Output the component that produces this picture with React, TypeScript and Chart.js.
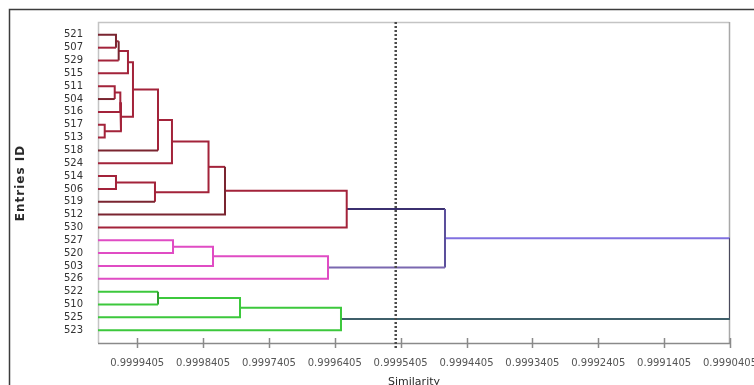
import { useEffect, useRef } from 'react';
import { Chart, registerables } from 'chart.js';

Chart.register(...registerables);

// Leaf labels, top to bottom
const leafIds = ['521', '507', '529', '515', '511', '504', '516', '517', '513', '518', '524', '514', '506', '519', '512', '530', '527', '520', '503', '526', '522', '510', '525', '523'];

// Linkage table: merge k creates node 24 + k from mergeLeft[k] and mergeRight[k]
const mergeLeft = [0, 24, 25, 4, 27, 7, 28, 26, 31, 32, 11, 34, 33, 36, 37, 16, 39, 40, 20, 42, 43, 38, 45];
const mergeRight = [1, 2, 3, 5, 6, 8, 29, 30, 9, 10, 12, 13, 35, 14, 15, 17, 18, 19, 21, 22, 23, 41, 44];
const mergeSimilarity = [
  0.9999727, 0.9999686, 0.9999545, 0.9999746, 0.9999661, 0.9999898, 0.9999651, 0.9999469,
  0.9999089, 0.9998877, 0.9999727, 0.9999135, 0.9998322, 0.9998072, 0.9996224, 0.9998861,
  0.9998254, 0.9996508, 0.9999089, 0.9997844, 0.9996311, 0.9994732, 0.9990405,
];

// Similarity axis
const xTickValues = [0.9999405, 0.9998405, 0.9997405, 0.9996405, 0.9995405, 0.9994405, 0.9993405, 0.9992405, 0.9991405, 0.9990405];
const similarityMin = 0.9990405;
const similarityMax = 1.0;
const cutSimilarity = 0.999548;

// Segment colours per link: [upper leg, vertical, lower leg]
const BROWN = '#a3233a';
const DARK_BROWN = '#7a2530';
const PINK = '#e04cc4';
const GREEN = '#3cc83c';
const linkColors: string[][] = [
  [DARK_BROWN, DARK_BROWN, BROWN], // a
  [BROWN, DARK_BROWN, BROWN], // b
  [BROWN, BROWN, BROWN], // c
  [BROWN, BROWN, DARK_BROWN], // d
  [BROWN, BROWN, BROWN], // e
  [BROWN, BROWN, BROWN], // f
  [BROWN, BROWN, BROWN], // g
  [BROWN, BROWN, BROWN], // h
  [BROWN, BROWN, DARK_BROWN], // i
  [BROWN, BROWN, BROWN], // j
  [BROWN, BROWN, BROWN], // k
  [BROWN, BROWN, DARK_BROWN], // l
  [BROWN, BROWN, BROWN], // m
  [BROWN, DARK_BROWN, DARK_BROWN], // n
  [BROWN, BROWN, BROWN], // o
  [PINK, PINK, PINK], // p
  [PINK, PINK, PINK], // q
  [PINK, PINK, PINK], // r
  [GREEN, '#2f9e2f', GREEN], // s
  [GREEN, GREEN, GREEN], // t
  [GREEN, GREEN, GREEN], // u
  ['#3b3070', '#5b4f9c', '#7a68b0'], // v
  ['#8070e0', '#4a4a5c', '#3f5f6a'], // w
];

const PLOT_LEFT = 98;
const PLOT_TOP = 22;
const PLOT_RIGHT_PAD = 24;
const X_AXIS_HEIGHT = 42;

const framePlugin = {
  id: 'frame',
  beforeDraw(chart: any) {
    const { ctx, width, height } = chart;
    ctx.save();
    ctx.fillStyle = '#ffffff';
    ctx.fillRect(0, 0, width, height);
    ctx.strokeStyle = '#3c3c3c';
    ctx.lineWidth = 1.5;
    ctx.strokeRect(9.5, 9.5, width + 50, height + 50);
    ctx.restore();
  },
  beforeDatasetsDraw(chart: any) {
    const { ctx, chartArea } = chart;
    const { left, top, right, bottom } = chartArea;
    ctx.save();
    ctx.strokeStyle = '#c4c4c4';
    ctx.lineWidth = 1.5;
    ctx.beginPath();
    ctx.moveTo(left + 0.5, bottom);
    ctx.lineTo(left + 0.5, top + 0.5);
    ctx.lineTo(right - 0.5, top + 0.5);
    ctx.stroke();
    ctx.strokeStyle = '#a8a8a8';
    ctx.beginPath();
    ctx.moveTo(right - 0.5, top);
    ctx.lineTo(right - 0.5, bottom);
    ctx.stroke();
    // axis line with crossing tick marks
    ctx.strokeStyle = '#8a8a8a';
    ctx.lineWidth = 1.5;
    ctx.beginPath();
    ctx.moveTo(left, bottom + 0.5);
    ctx.lineTo(right, bottom + 0.5);
    const xs = chart.scales.x;
    xs.ticks.forEach((t: any) => {
      const px = Math.round(xs.getPixelForValue(t.value)) + 0.5;
      ctx.moveTo(px, bottom - 5);
      ctx.lineTo(px, bottom + 5);
    });
    ctx.stroke();
    ctx.restore();
  },
  afterDraw(chart: any) {
    const { ctx, chartArea } = chart;
    ctx.save();
    ctx.fillStyle = '#2a2a2a';
    ctx.textAlign = 'center';
    ctx.textBaseline = 'middle';
    ctx.font = '11px "DejaVu Sans"';
    ctx.fillText('Similarity', (chartArea.left + chartArea.right) / 2, 382);
    ctx.translate(21, 183);
    ctx.rotate(-Math.PI / 2);
    ctx.font = 'bold 12px "DejaVu Sans"';
    (ctx as any).letterSpacing = '1px';
    ctx.fillText('Entries ID', 0, 0);
    ctx.restore();
  },
};

export default function App() {
  const canvasRef = useRef<HTMLCanvasElement | null>(null);

  useEffect(() => {
    if (!canvasRef.current) return;

    // Node positions: leaves sit at their row, merges midway between children
    const nodeY: number[] = leafIds.map((_, i) => i);
    const nodeS: number[] = leafIds.map(() => similarityMax);
    mergeLeft.forEach((l, k) => {
      nodeY.push((nodeY[l] + nodeY[mergeRight[k]]) / 2);
      nodeS.push(mergeSimilarity[k]);
    });

    const linkDatasets = mergeLeft.map((l, k) => {
      const r = mergeRight[k];
      const s = mergeSimilarity[k];
      const cols = linkColors[k];
      return {
        type: 'scatter' as const,
        data: [
          { x: nodeS[l], y: nodeY[l] },
          { x: s, y: nodeY[l] },
          { x: s, y: nodeY[r] },
          { x: nodeS[r], y: nodeY[r] },
        ],
        showLine: true,
        borderColor: cols[1],
        borderWidth: 2,
        pointRadius: 0,
        segment: { borderColor: (c: any) => cols[c.p0DataIndex] },
      };
    });

    const cutLine = {
      type: 'scatter' as const,
      data: [
        { x: cutSimilarity, y: -1 },
        { x: cutSimilarity, y: 24.4 },
      ],
      showLine: true,
      borderColor: '#4a4a4a',
      borderWidth: 2.5,
      borderDash: [2, 2],
      pointRadius: 0,
      clip: false as any,
    };

    const chart = new Chart(canvasRef.current, {
      type: 'scatter',
      data: { datasets: [cutLine, ...linkDatasets] as any },
      options: {
        responsive: false,
        animation: false,
        devicePixelRatio: 1,
        layout: { padding: { top: PLOT_TOP, right: PLOT_RIGHT_PAD, left: 0, bottom: 0 } },
        plugins: { legend: { display: false }, tooltip: { enabled: false } },
        scales: {
          x: {
            type: 'linear',
            reverse: true,
            min: similarityMin,
            max: similarityMax,
            grid: { display: false, drawTicks: false },
            border: { display: false },
            afterBuildTicks: (s: any) => {
              s.ticks = xTickValues.map((v) => ({ value: v }));
            },
            afterFit: (s: any) => {
              s.height = X_AXIS_HEIGHT;
              s.paddingLeft = 0;
              s.paddingRight = 0;
            },
            ticks: {
              autoSkip: false,
              maxRotation: 0,
              padding: 14,
              color: '#555555',
              font: { family: 'DejaVu Sans', size: 10 },
              callback: (v: any) => Number(v).toFixed(7),
            },
          },
          y: {
            type: 'linear',
            reverse: true,
            min: -1,
            max: 24,
            grid: { display: false, drawTicks: false },
            border: { display: false },
            afterBuildTicks: (s: any) => {
              s.ticks = leafIds.map((_, i) => ({ value: i }));
            },
            afterFit: (s: any) => {
              s.width = PLOT_LEFT;
              s.paddingTop = 0;
              s.paddingBottom = 0;
            },
            ticks: {
              autoSkip: false,
              padding: 15,
              color: '#333333',
              font: { family: 'DejaVu Sans', size: 10 },
              callback: (v: any) => leafIds[v] ?? '',
            },
          },
        },
      },
      plugins: [framePlugin],
    });

    return () => chart.destroy();
  }, []);

  return (
    <div style={{ position: 'absolute', left: 0, top: 0, width: 754, height: 385 }}>
      <canvas ref={canvasRef} width={754} height={385} />
    </div>
  );
}
